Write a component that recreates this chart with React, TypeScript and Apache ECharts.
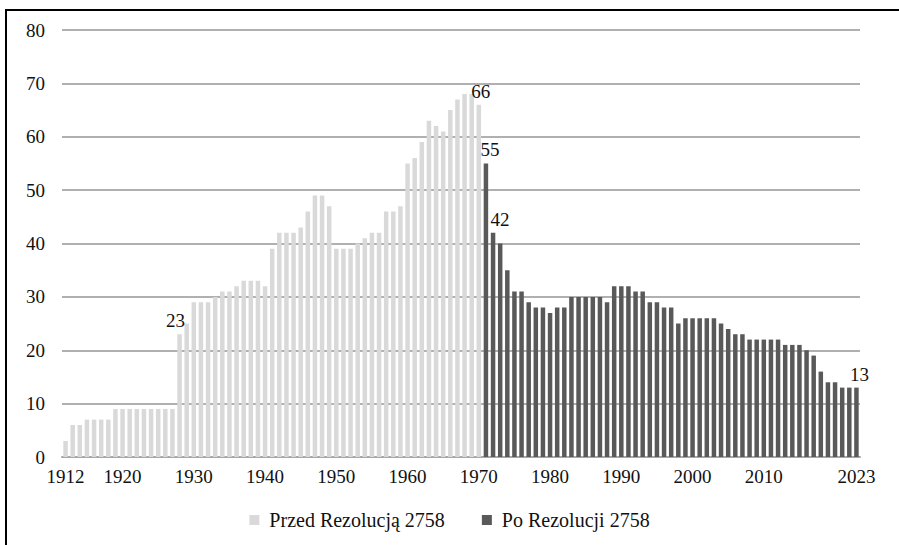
import React, { useEffect, useRef } from "react";
import * as echarts from "echarts";

const years: string[] = [];
for (let y = 1912; y <= 2023; y++) years.push(String(y));

// 1912–1970
const beforeValues = [
  3, 6, 6, 7, 7, 7, 7, 9, 9, 9,
  9, 9, 9, 9, 9, 9, 23, 25, 29, 29,
  29, 30, 31, 31, 32, 33, 33, 33, 32, 39,
  42, 42, 42, 43, 46, 49, 49, 47, 39, 39,
  39, 40, 41, 42, 42, 46, 46, 47, 55, 56,
  59, 63, 62, 61, 65, 67, 68, 68, 66,
];

// 1971–2023
const afterValues = [
  55, 42, 40, 35, 31, 31, 29, 28, 28, 27,
  28, 28, 30, 30, 30, 30, 30, 29, 32, 32,
  32, 31, 31, 29, 29, 28, 28, 25, 26, 26,
  26, 26, 26, 25, 24, 23, 23, 22, 22, 22,
  22, 22, 21, 21, 21, 20, 19, 16, 14, 14,
  13, 13, 13,
];

const seriesNames = ["Przed Rezolucją 2758", "Po Rezolucji 2758"];
const labeledYears = ["1928", "1970", "1971", "1972", "2023"];
const shownTickYears = ["1912", "1920", "1930", "1940", "1950", "1960", "1970", "1980", "1990", "2000", "2010", "2023"];

// label horizontal nudges (style only)
const labelOffsets: Record<string, number> = { "1928": -4, "1970": 2, "1971": 4, "1972": 7, "2023": 3 };

const FONT = "Liberation Serif";

export default function App() {
  const ref = useRef<HTMLDivElement>(null);

  useEffect(() => {
    if (!ref.current) return;
    const chart = echarts.init(ref.current, undefined, { renderer: "svg" });

    const nBefore = beforeValues.length;
    const buildData = (vals: number[], startIdx: number) =>
      years.map((yr, i) => {
        const k = i - startIdx;
        if (k < 0 || k >= vals.length) return null;
        const v = vals[k];
        if (labeledYears.includes(yr)) {
          return {
            value: v,
            label: {
              show: true,
              position: "top",
              distance: 4,
              offset: [labelOffsets[yr] || 0, 0],
              color: "#111",
              fontSize: 19,
              fontFamily: FONT,
            },
          };
        }
        return v;
      });

    const beforeData = buildData(beforeValues, 0);
    const afterData = buildData(afterValues, nBefore);

    chart.setOption({
      animation: false,
      backgroundColor: "#ffffff",
      textStyle: { fontFamily: FONT },
      grid: { left: 62, right: 39, top: 30, bottom: 88, containLabel: false },
      legend: {
        data: seriesNames,
        bottom: 10,
        left: "center",
        itemWidth: 10,
        itemHeight: 10,
        itemGap: 37,
        icon: "rect",
        textStyle: { fontSize: 20, fontFamily: FONT, color: "#111", padding: [0, 0, 0, 5] },
      },
      xAxis: {
        type: "category",
        data: years,
        axisTick: { show: false },
        axisLine: { show: true, lineStyle: { color: "#a8a8a8", width: 2 } },
        axisLabel: {
          interval: (_idx: number, val: string) => shownTickYears.includes(val),
          margin: 10,
          fontSize: 19,
          fontFamily: FONT,
          color: "#111",
          hideOverlap: false,
        },
      },
      yAxis: {
        type: "value",
        min: 0,
        max: 80,
        interval: 10,
        axisLine: { show: false },
        axisTick: { show: false },
        splitLine: { lineStyle: { color: "#b0b0b0", width: 2 } },
        axisLabel: { fontSize: 19, fontFamily: FONT, color: "#111", margin: 17 },
      },
      series: [
        {
          name: seriesNames[0],
          type: "bar",
          data: beforeData,
          itemStyle: { color: "#d9d9d9" },
          barGap: "-100%",
          barCategoryGap: "37%",
        },
        {
          name: seriesNames[1],
          type: "bar",
          data: afterData,
          itemStyle: { color: "#595959" },
          barGap: "-100%",
          barCategoryGap: "37%",
        },
      ],
      graphic: [
        { type: "line", shape: { x1: 5, y1: 10, x2: 899, y2: 10 }, style: { stroke: "#000", lineWidth: 2 } },
        { type: "line", shape: { x1: 6, y1: 9, x2: 6, y2: 545 }, style: { stroke: "#000", lineWidth: 2 } },
      ],
    });

    return () => chart.dispose();
  }, []);

  return (
    <div
      ref={ref}
      style={{ position: "fixed", left: 0, top: 0, width: 899, height: 545, background: "#fff" }}
    />
  );
}
